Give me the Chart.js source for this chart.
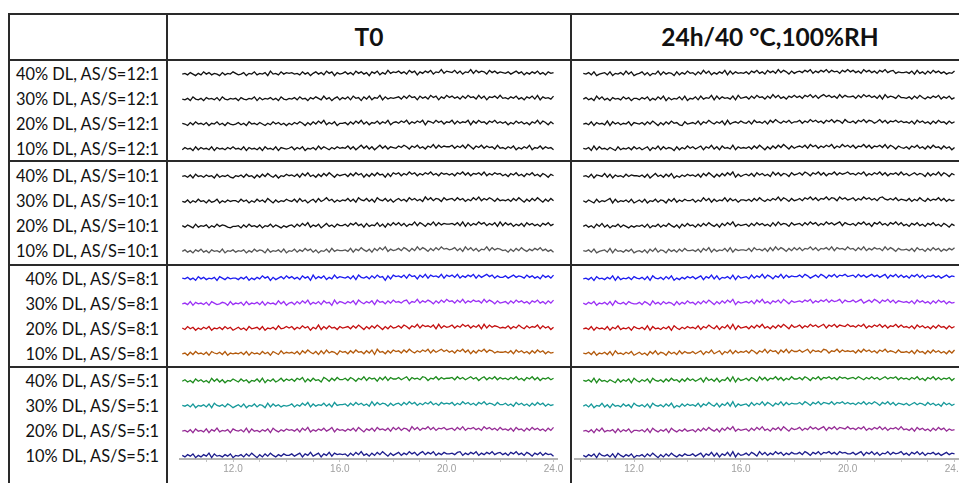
<!DOCTYPE html>
<html>
<head>
<meta charset="utf-8">
<script src="https://cdn.jsdelivr.net/npm/chart.js@4.4.1/dist/chart.umd.min.js"></script>
<style>
  html, body { margin: 0; padding: 0; background: #fff; overflow: hidden; width: 959px; height: 483px; }
  body { position: relative; font-family: Lato, "Open Sans", sans-serif; color: #111; }
  .ln { position: absolute; background: #2a2a2a; }
  .hdr { position: absolute; top: 15px; height: 44px; line-height: 44px; text-align: center; font-weight: bold; font-size: 24.5px; color: #111; }
  .lbl { position: absolute; left: 8px; width: 151px; height: 20px; line-height: 21px; text-align: right; font-size: 16.4px; white-space: nowrap; }
  canvas { position: absolute; top: 62px; }
</style>
</head>
<body>
<!-- table grid -->
<div class="ln" style="left:9px;top:13px;width:960px;height:2px"></div>
<div class="ln" style="left:9px;top:59px;width:960px;height:2px"></div>
<div class="ln" style="left:9px;top:160px;width:960px;height:2px"></div>
<div class="ln" style="left:9px;top:264px;width:960px;height:2px"></div>
<div class="ln" style="left:9px;top:366px;width:960px;height:2px"></div>
<div class="ln" style="left:8px;top:13px;width:2px;height:480px"></div>
<div class="ln" style="left:166px;top:13px;width:2px;height:480px"></div>
<div class="ln" style="left:570px;top:13px;width:2px;height:480px"></div>
<div id="hdr0" class="hdr" style="left:168px;width:402px"></div>
<div id="hdr1" class="hdr" style="left:572px;width:396px"></div>
<div id="labels"></div>
<canvas id="chartT0" width="400" height="418" style="left:170px"></canvas>
<canvas id="chart24h" width="400" height="418" style="left:572px"></canvas>
<script>
// ── Headers, row labels ──────────────────────────────────────────────────────
const COLUMN_TITLES = ['T0', '24h/40 °C,100%RH'];
const DL_LEVELS = ['40%', '30%', '20%', '10%'];
const AS_RATIOS = ['12:1', '10:1', '8:1', '5:1'];
const TRACE_COLORS = [
  '#111111', '#111111', '#111111', '#111111',
  '#111111', '#111111', '#111111', '#555555',
  '#1c1cf0', '#9b30f5', '#c41010', '#b35a0c',
  '#1e8c1e', '#17999a', '#962c96', '#1c1c8c',
];

// 2θ sampling of the scans
const THETA_START = 10.1;
const THETA_STEP = 0.1;
const X_TICKS = [12, 16, 20, 24];

// Intensity readings (0-9, relative) every 0.1° from 10.1° to 24.0°
// ── T0 ──
const T0_40_12 = '34253142635243152436 42351436243517342635 45342635146352746153 46352746351647253846 57463857264758365947 65847365948576385746 54635746253647352645';
const T0_30_12 = '32416324153425163243 41532436152435241632 43526341536427351462 53627451637254826354 56374856274638572648 57463748563847265748 45364735264738264537';
const T0_20_12 = '43152634251436241532 35241634253142635241 42536415263748253614 45263748362547364825 64758364758276485736 58374658274856375846 46253746352648375263';
const T0_10_12 = '25341625342615342536 34261534251634261543 46253614352736425364 54736258473625847365 47586375846375948576 68475849637584756384 53647253648254736452';
const T0_40_10 = '34251634253416243521 43526341526374251436 45362748352637485264 56374857263748562738 68475968475869574867 57486958476859475867 46375846375846375264';
const T0_30_10 = '32514263415236142534 42635142635274152436 43627351462735846253 54736285473628547362 57463857463958476385 67485736485947586374 54637485263748526374';
const T0_20_10 = '42531624351426354213 34152634251436253142 45263748253614735264 46375846273548362748 58473659486375948576 67584938475968475839 48573647385746375846';
const T0_10_10 = '35241536241534261435 24351426354162435261 43625374625143627354 45372648536274859364 57486374958637485967 56847395847365948576 45263748536475846352';
const T0_40_8 = '43524163524351642534 42536142537461524637 46352746183647253846 54637285463748561738 67584967385948675948 68594758694857968475 57468576485746385748';
const T0_30_8 = '34261534251642354162 43516243526153427361 45263748253627451836 53647285364728563748 56478365947586374859 67485947586749586374 56374857463758463748';
const T0_20_8 = '42635142536143526351 35241634526143527346 46253746153826374526 45637485263748526374 57486375948675839475 68475968475839485764 54736485374658374625';
const T0_10_8 = '34152634251643526143 43526153426351642735 45362748536273846527 56374856374829563748 67485964758694857968 57486958374869587465 56473857463748573645';
const T0_40_5 = '35241635241736251436 42635143627153624736 46375826374528637485 57486375948673859486 68579486759847695867 78596857968479586958 67586957486958476857';
const T0_30_5 = '43526143526174352641 35261436254172635243 46253748263547362845 56374857463948576374 67485968475869574867 68475968574869576485 57463857463748573645';
const T0_20_5 = '34251634261537243516 43527163425361742536 45362748253647358264 53647385264738564738 58476395847695847685 67485947685749685748 56473856374857463748';
const T0_10_5 = '42536142537163425361 43526374152637425364 46357264835726483756 56374859463748596374 68475968479586947586 67589475869475869578 57486957486375847563';

// ── 24h / 40 °C, 100 %RH ──
const H24_40_12 = '43526134526143527361 34625143726354162537 45263847253648273645 46375846385749586374 67586947586958674869 68574968574869578465 56473846374857463547';
const H24_30_12 = '35241736241534263514 42536142637152436271 43627354827364537284 56374856374958463758 57486958479685749586 67485968574839576485 54637485364758364735';
const H24_20_12 = '34261534271635243615 43526374152637452163 45372648536472835647 54738564738596475846 68475968574869587496 57486958746958476857 56473857463748563746';
const H24_10_12 = '43517263425316243526 35246153726354162537 46357264836274538264 54637485263748596374 67584968475869475968 58476958476859486375 46375846374856374625';
const H24_40_10 = '34261543726153426354 43526147352637142536 45362748526374859263 56473857463958476385 68597486958476958679 67586947586958476859 57468576384759486375';
const H24_30_10 = '42531624357162435261 35261436254163725364 46253847263548374625 54637485364759486374 57486958476958749685 68475968574896575846 54736485374658473645';
const H24_20_10 = '35241637251436253142 43526143625374251637 45263748536274859364 56374857463849576385 67485968475968579486 57486957386957486958 46375846375846375264';
const H24_10_10 = '43526134527163425361 34251637254163526374 45362748263547382645 54738564738495863748 58476958476859486759 67485947586749586375 56473856374857364758';
const H24_40_8 = '34251634253716243526 43526174352637142536 46357264837254638274 56384759486375948576 68597468597486958796 78596857968579486958 57486958476857468576';
const H24_30_8 = '42536143526174352643 35264173526354162537 45263748526374859264 56473859463758496375 67586947586958679486 68579468597486958476 56473857463748573645';
const H24_20_8 = '34261534261537243516 43527163425361742536 45372648537264839274 56374859463748596385 68475968579486958769 67586947586958476958 56473857463748563746';
const H24_10_8 = '43526143526173425361 35241637254163527364 46357264835726483746 57486375948673859486 68579486759847695867 67485968574869576485 56473856374857463748';
const H24_40_5 = '43527163425316253617 42536174352637452637 46357284637254839274 57486395847695847596 68597486958796859786 78697586968579687958 67586957486958576847';
const H24_30_5 = '35261437251634263517 43526174352637142636 45372648537264839264 56384759486375948576 68597486958769587968 67586958697486958476 57468576485746385746';
const H24_20_5 = '34251637243516253614 43526174253617425363 45263748536274859364 56374859463758496375 68475968579486958769 67586947586958476859 56473857463748573645';
const H24_10_5 = '42536174352617425361 43526374152637425364 46357264837264839274 57486395847596847586 68597486958796859786 68579486958476958679 57486958476857468576';

const SERIES_T0 = [
  T0_40_12, T0_30_12, T0_20_12, T0_10_12,
  T0_40_10, T0_30_10, T0_20_10, T0_10_10,
  T0_40_8, T0_30_8, T0_20_8, T0_10_8,
  T0_40_5, T0_30_5, T0_20_5, T0_10_5,
];
const SERIES_24H = [
  H24_40_12, H24_30_12, H24_20_12, H24_10_12,
  H24_40_10, H24_30_10, H24_20_10, H24_10_10,
  H24_40_8, H24_30_8, H24_20_8, H24_10_8,
  H24_40_5, H24_30_5, H24_20_5, H24_10_5,
];

// stacking: one row per trace, a little extra gap between AS/S groups
const GROUP_GAP = 0.1;
const NOISE_STEP = 0.03;   // row units per intensity step

function rowPos(i) { return i + Math.floor(i / 4) * GROUP_GAP; }

function traceData(str, i) {
  const vals = str.replace(/\s/g, '').split('').map(Number);
  return vals.map((v, k) => ({
    x: +(THETA_START + k * THETA_STEP).toFixed(2),
    y: rowPos(i) - (v - 4.5) * NOISE_STEP,
  }));
}

function renderPanel(id, series, xMin, xMax, padL, padR) {
  return new Chart(document.getElementById(id), {
    type: 'line',
    data: {
      datasets: series.map((s, i) => ({
        data: traceData(s, i),
        borderColor: TRACE_COLORS[i],
        borderWidth: 1.3,
        pointRadius: 0,
        tension: 0,
        fill: false,
      })),
    },
    options: {
      responsive: false,
      animation: false,
      events: [],
      layout: { padding: { left: padL, right: padR, top: 0, bottom: 4 } },
      plugins: { legend: { display: false }, tooltip: { enabled: false } },
      scales: {
        x: {
          type: 'linear',
          min: xMin,
          max: xMax,
          border: { display: true, color: '#b4b4b4', width: 2 },
          grid: { drawOnChartArea: false, drawTicks: true, tickLength: 3, color: '#c4c4c4' },
          ticks: {
            stepSize: 1,
            autoSkip: false,
            maxRotation: 0,
            includeBounds: false,
            padding: 1,
            color: '#a0a0a0',
            font: { family: "'Liberation Sans', Arial, sans-serif", size: 10 },
            callback: v => X_TICKS.includes(v) ? v.toFixed(1) : '',
          },
        },
        y: { display: false, reverse: true, min: -0.44, max: 15.46 },
      },
    },
  });
}

const chartT0 = renderPanel('chartT0', SERIES_T0, 10.015, 24.13, 10, 13);
const chart24h = renderPanel('chart24h', SERIES_24H, 9.79, 24.13, 3, 14);

document.getElementById('hdr0').textContent = COLUMN_TITLES[0];
document.getElementById('hdr1').textContent = COLUMN_TITLES[1];

// row labels, aligned with the traces through the chart's own y scale
const labelBox = document.getElementById('labels');
AS_RATIOS.forEach((r, g) => {
  DL_LEVELS.forEach((d, j) => {
    const i = g * 4 + j;
    const y = 62 + chartT0.scales.y.getPixelForValue(rowPos(i));
    const div = document.createElement('div');
    div.className = 'lbl';
    div.style.top = (y - 10) + 'px';
    div.textContent = `${d} DL, AS/S=${r}`;
    labelBox.appendChild(div);
  });
});
</script>
</body>
</html>
